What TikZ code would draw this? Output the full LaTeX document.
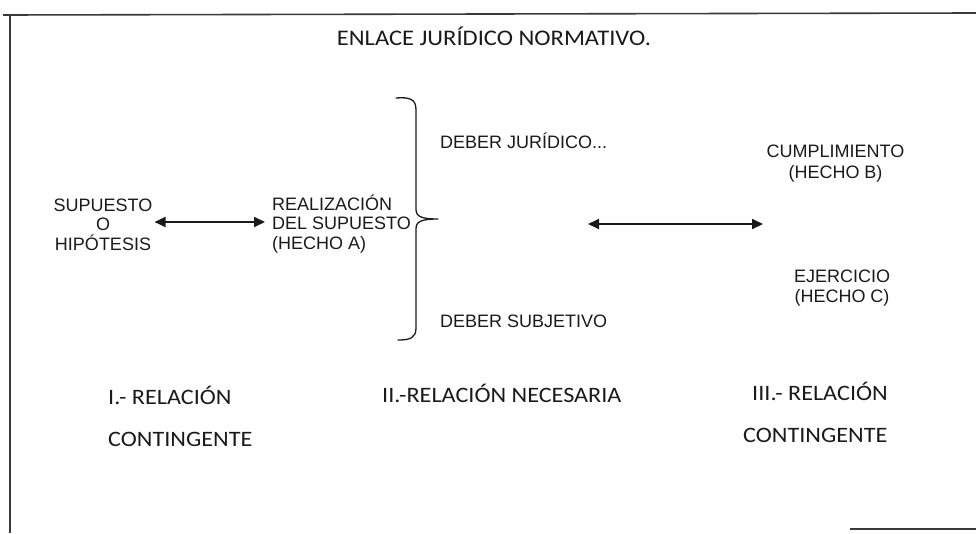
\documentclass[tikz,border=0pt]{standalone}
\usepackage{fontspec}
\setmainfont{Liberation Sans}
\newfontfamily\calib[FakeStretch=1.1]{Carlito}
\usetikzlibrary{arrows.meta}
\definecolor{ink}{HTML}{1A1A1A}
\definecolor{frame}{HTML}{3A3A3A}
\tikzset{
  arial/.style={inner sep=0pt, text=ink, font=\fontsize{18}{19.5}\selectfont},
  calibri/.style={inner sep=0pt, text=ink, font=\calib\fontsize{22}{26}\selectfont},
  dblarrow/.style={ink, line width=2pt, {Triangle[length=11pt,width=10pt]}-{Triangle[length=11pt,width=10pt]}},
  bracepath/.style={ink, line width=1.3pt, line cap=round, line join=round},
  framepath/.style={frame, line width=1.6pt}
}
\begin{document}
\begin{tikzpicture}[x=1pt,y=-1pt]
\useasboundingbox (0,0) rectangle (976,533);
% frame
\draw[framepath] (3,15) -- (976,13);
\draw[framepath] (10,15) -- (10,533);
\draw[framepath] (850,529) -- (976,529);
% title
\node[calibri, anchor=base, font=\calib\fontsize{22.3}{26}\selectfont] (title) at (494,45) {ENLACE JURÍDICO NORMATIVO.};
% left column (base anchor = baseline of last line)
\node[arial, align=center, anchor=base] (sup) at (103,250) {SUPUESTO\\O\\HIPÓTESIS};
\node[arial, align=left, anchor=base west] (real) at (272,249) {REALIZACIÓN\\DEL SUPUESTO\\(HECHO A)};
\draw[dblarrow, shorten <=2pt, shorten >=7pt] (sup.east |- 0,222) -- (real.west |- 0,222);
% brace
\draw[bracepath] (396,98) .. controls (410,97) and (416,99) .. (416,110)
  -- (416,209) .. controls (416,216) and (420,219) .. (438,219)
  .. controls (420,219) and (416,222) .. (416,229)
  -- (416,328) .. controls (416,338) and (410,340) .. (398,340);
\node[arial, anchor=base west] (deberj) at (440,148) {DEBER JURÍDICO...};
\node[arial, anchor=base west] (debers) at (440,327) {DEBER SUBJETIVO};
% middle arrow
\coordinate (a2l) at (588,224);
\coordinate (a2r) at (763,224);
\draw[dblarrow] (a2l) -- (a2r);
% right column
\node[arial, align=center, anchor=base, font=\fontsize{18}{20.5}\selectfont] (cumpl) at (835.5,178) {CUMPLIMIENTO\\(HECHO B)};
\node[arial, align=center, anchor=base, font=\fontsize{18}{20}\selectfont] (ejer) at (842,302) {EJERCICIO\\(HECHO C)};
% bottom labels
\node[calibri, anchor=base west] (rel1a) at (108,404) {I.- RELACIÓN};
\node[calibri, anchor=base west] (rel1b) at (108,446) {CONTINGENTE};
\node[calibri, anchor=base west] (rel2) at (382,402) {II.-RELACIÓN NECESARIA};
\node[calibri, anchor=base west] (rel3a) at (752,400) {III.- RELACIÓN};
\node[calibri, anchor=base west] (rel3b) at (743,442) {CONTINGENTE};
\end{tikzpicture}
\end{document}
